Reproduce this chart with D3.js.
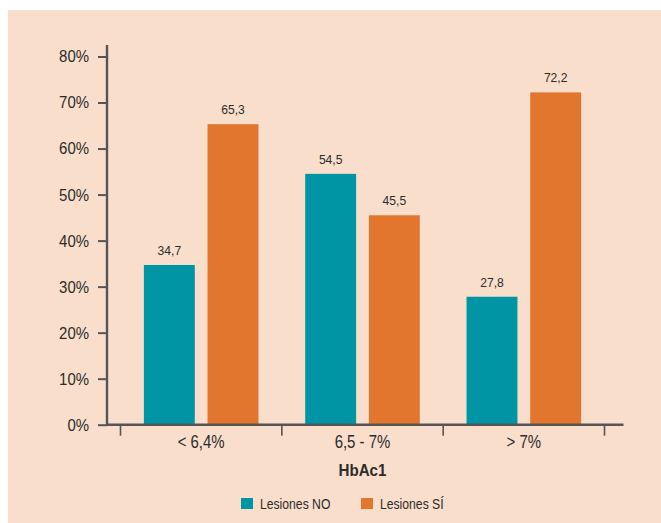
<!DOCTYPE html>
<html>
<head>
<meta charset="utf-8">
<script src="https://cdn.jsdelivr.net/npm/d3@7"></script>
<style>
  html, body { margin: 0; padding: 0; background: #fff; }
  svg text { font-family: "Liberation Sans", Arial, sans-serif; fill: #2b2b2b; }
</style>
</head>
<body>
<svg id="chart" width="661" height="523"></svg>
<script>
// ── Datos ────────────────────────────────────────────────────────
const CATEGORIES = ["< 6,4%", "6,5 - 7%", "> 7%"];
const SERIES = ["Lesiones NO", "Lesiones SÍ"];
const LESIONES_NO = [34.7, 54.5, 27.8];
const LESIONES_SI = [65.3, 45.5, 72.2];
const Y_TICKS = [0, 10, 20, 30, 40, 50, 60, 70, 80];
const COLORS = ["#0095a5", "#e2762f"];

// estrecha un texto en horizontal (fuente condensada) conservando su x
function narrow(k) {
  return sel => sel.each(function() {
    const t = d3.select(this);
    const x0 = +t.attr("x") || 0;
    t.attr("x", x0 / k).attr("transform", `scale(${k},1)`);
  });
}

const svg = d3.select("#chart");

// fondo
svg.append("rect")
  .attr("x", 8).attr("y", 10).attr("width", 653).attr("height", 513)
  .attr("fill", "#f9dfcb");

// ── Escalas ──────────────────────────────────────────────────────
const y = d3.scaleLinear().domain([0, 80]).range([424.7, 56.5]);
const x = d3.scaleBand().domain(CATEGORIES).range([120.5, 604.5]).padding(0);
const xs = d3.scaleBand().domain(SERIES).range([0, x.bandwidth()])
  .paddingInner(0.2).paddingOuter(0.367);
const color = d3.scaleOrdinal().domain(SERIES).range(COLORS);

const rows = CATEGORIES.map((c, i) => ({
  cat: c,
  values: [
    {key: SERIES[0], v: LESIONES_NO[i]},
    {key: SERIES[1], v: LESIONES_SI[i]}
  ]
}));

// ── Barras ───────────────────────────────────────────────────────
const group = svg.selectAll("g.grp")
  .data(rows)
  .join("g")
  .attr("class", "grp")
  .attr("transform", d => `translate(${x(d.cat)},0)`);

group.selectAll("rect")
  .data(d => d.values)
  .join("rect")
  .attr("x", d => xs(d.key))
  .attr("width", xs.bandwidth())
  .attr("y", d => y(d.v))
  .attr("height", d => y(0) - y(d.v))
  .attr("fill", d => color(d.key));

group.selectAll("text.val")
  .data(d => d.values)
  .join("text")
  .attr("class", "val")
  .attr("x", d => xs(d.key) + xs.bandwidth() / 2)
  .attr("y", d => y(d.v) - 10)
  .attr("text-anchor", "middle")
  .attr("font-size", 12.5)
  .text(d => d.v.toFixed(1).replace(".", ","))
  .call(narrow(0.97));

// ── Eje Y ────────────────────────────────────────────────────────
const yAxis = svg.append("g")
  .attr("transform", "translate(107,0)")
  .call(d3.axisLeft(y).tickValues(Y_TICKS).tickSize(9).tickSizeOuter(0)
    .tickFormat(d => d + "%"));
yAxis.select(".domain").remove();
yAxis.selectAll(".tick line").attr("stroke", "#555").attr("stroke-width", 2);
yAxis.selectAll(".tick text")
  .attr("x", -18).attr("font-size", 17).attr("font-family", null).attr("fill", null)
  .call(narrow(0.88));

svg.append("line")
  .attr("x1", 107).attr("x2", 107)
  .attr("y1", 45).attr("y2", y(0) + 1)
  .attr("stroke", "#555").attr("stroke-width", 2.4);

// ── Eje X ────────────────────────────────────────────────────────
svg.append("line")
  .attr("x1", 106).attr("x2", 623.5)
  .attr("y1", y(0)).attr("y2", y(0))
  .attr("stroke", "#555").attr("stroke-width", 2.6);

const bounds = CATEGORIES.map(c => x(c)).concat([x.range()[1]]);
svg.selectAll("line.xtick")
  .data(bounds)
  .join("line")
  .attr("class", "xtick")
  .attr("x1", d => d).attr("x2", d => d)
  .attr("y1", y(0)).attr("y2", y(0) + 11)
  .attr("stroke", "#555").attr("stroke-width", 1.6);

svg.selectAll("text.xlab")
  .data(CATEGORIES)
  .join("text")
  .attr("class", "xlab")
  .attr("x", d => x(d) + x.bandwidth() / 2)
  .attr("y", 448)
  .attr("text-anchor", "middle")
  .attr("font-size", 17.5)
  .text(d => d)
  .call(narrow(0.855));

svg.append("text")
  .attr("x", x.range()[0] + (x.range()[1] - x.range()[0]) / 2)
  .attr("y", 476.5)
  .attr("text-anchor", "middle")
  .attr("font-size", 17)
  .attr("font-weight", "bold")
  .text("HbAc1")
  .call(narrow(0.89));

// ── Leyenda ──────────────────────────────────────────────────────
const legX = [241, 361];
const leg = svg.selectAll("g.leg")
  .data(SERIES)
  .join("g")
  .attr("class", "leg")
  .attr("transform", (d, i) => `translate(${legX[i]},498)`);
leg.append("rect")
  .attr("width", 12).attr("height", 11)
  .attr("fill", d => color(d));
leg.append("text")
  .attr("x", 19).attr("y", 11.3)
  .attr("font-size", 14)
  .text(d => d)
  .call(narrow(0.87));
</script>
</body>
</html>
